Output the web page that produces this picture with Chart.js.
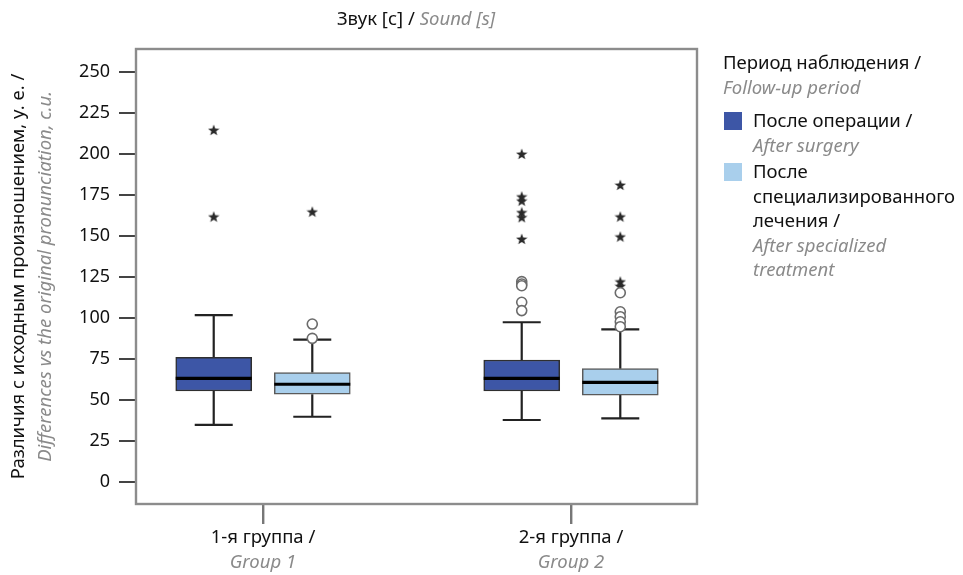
<!DOCTYPE html>
<html><head><meta charset="utf-8">
<script src="https://cdn.jsdelivr.net/npm/chart.js@4/dist/chart.umd.min.js"></script>
<style>
html,body{margin:0;padding:0;background:#fff;}
#wrap{position:relative;width:963px;height:575px;overflow:hidden;}
#c{position:absolute;left:0;top:0;}
.txt{position:absolute;font-family:'Noto Sans',sans-serif;font-size:18.5px;line-height:24.6px;color:#111;}
.en{color:#8a8a8a;font-style:italic;}
#title{left:216px;width:400px;top:6px;text-align:center;white-space:nowrap;}
#legTitle{left:723px;top:50px;white-space:nowrap;}
.sw{position:absolute;width:18px;height:18px;}
.lt{width:209px;}
</style></head>
<body><div id="wrap"><canvas id="c" width="963" height="575"></canvas>
<div id="title" class="txt"></div>
<div id="legTitle" class="txt"></div>
</div>
<script>
// ---- data ----
const titleRu = 'Звук [с] /';
const titleEn = 'Sound [s]';
const yTitleRu = 'Различия с исходным произношением, у. е. /';
const yTitleEn = 'Differences vs the original pronunciation, c.u.';
const legendTitleRu = 'Период наблюдения /';
const legendTitleEn = 'Follow-up period';
const categoriesRu = ['1-я группа /', '2-я группа /'];
const categoriesEn = ['Group 1', 'Group 2'];
const seriesRu = ['После операции /', 'После специализированного лечения /'];
const seriesEn = ['After surgery', 'After specialized treatment'];
const yTicks = [0, 25, 50, 75, 100, 125, 150, 175, 200, 225, 250];
// [lower whisker, Q1, median, Q3, upper whisker] per group
const afterSurgery   = [[34.8, 55.5, 63.2, 76.0, 101.8], [37.8, 55.5, 63.2, 74.4, 97.4]];
const afterTreatment = [[39.8, 53.5, 59.6, 66.7, 86.8],  [38.8, 53.0, 60.8, 69.1, 93.1]];
// outliers (circles) and extreme values (stars) per group
const surgeryOutliers   = [[], [122.2, 120.7, 119.7, 109.6, 104.5]];
const surgeryExtremes   = [[214.6, 161.8], [200.0, 174.0, 171.5, 164.4, 161.4, 148.2]];
const treatmentOutliers = [[96.3, 87.6], [115.4, 103.8, 100.8, 97.7, 94.7]];
const treatmentExtremes = [[164.8], [181.1, 161.8, 149.6, 122.2, 119.5]];

// ---- style ----
const colors = ['#3d56a6', '#a9cfec'];
const boxBorders = ['#2f2f2f', '#5a5a5a'];
const FONT = "'Noto Sans', sans-serif";
const FS = 18.5;
const unitPx = 308;           // px per category unit
const offs = [-0.16, 0.16];   // series offset within group
const capHalf = 19 / unitPx;
const boxHalf = 38 / unitPx;

// HTML texts
document.getElementById('title').innerHTML = titleRu + ' <span class="en">' + titleEn + '</span>';
document.getElementById('legTitle').innerHTML = legendTitleRu + '<br><span class="en">' + legendTitleEn + '</span>';
const wrap = document.getElementById('wrap');
const legTops = [109, 160];
seriesRu.forEach((s, i) => {
  const sw = document.createElement('div');
  sw.className = 'sw'; sw.style.left = '724px'; sw.style.top = (legTops[i] + 3) + 'px';
  sw.style.background = colors[i];
  wrap.appendChild(sw);
  const t = document.createElement('div');
  t.className = 'txt lt'; t.style.left = '753px'; t.style.top = (legTops[i] - 1) + 'px';
  t.innerHTML = s + '<br><span class="en">' + seriesEn[i] + '</span>';
  wrap.appendChild(t);
});

// star image for extreme values
function makeStar(size, color) {
  const c = document.createElement('canvas');
  c.width = size; c.height = size;
  const x = c.getContext('2d');
  const cx = size / 2, cy = size / 2 + 0.5, R = size / 2, r = R * 0.42;
  x.beginPath();
  for (let k = 0; k < 10; k++) {
    const a = -Math.PI / 2 + k * Math.PI / 5;
    const rr = k % 2 ? r : R;
    x.lineTo(cx + rr * Math.cos(a), cy + rr * Math.sin(a));
  }
  x.closePath(); x.fillStyle = color; x.fill();
  return c;
}
const star = makeStar(12, '#2a2a2a');

const boxes = [afterSurgery, afterTreatment];
const datasets = [];
boxes.forEach((series, s) => {
  datasets.push({
    type: 'bar', label: seriesRu[s], order: 1, grouped: false,
    data: series.map((b, g) => ({ x: g + offs[s], y: [b[1], b[3]] })),
    backgroundColor: colors[s], borderColor: boxBorders[s], borderWidth: 1.5,
    borderSkipped: false, barThickness: 76
  });
});
// whiskers + caps
const wpts = [], mpts = [];
boxes.forEach((series, s) => series.forEach((b, g) => {
  const xc = g + offs[s];
  wpts.push({x: xc, y: b[0]}, {x: xc, y: b[1]}, {x: xc, y: null});
  wpts.push({x: xc, y: b[3]}, {x: xc, y: b[4]}, {x: xc, y: null});
  wpts.push({x: xc - capHalf, y: b[0]}, {x: xc + capHalf, y: b[0]}, {x: xc, y: null});
  wpts.push({x: xc - capHalf, y: b[4]}, {x: xc + capHalf, y: b[4]}, {x: xc, y: null});
  mpts.push({x: xc - boxHalf, y: b[2]}, {x: xc + boxHalf, y: b[2]}, {x: xc, y: null});
}));
datasets.push({ type: 'line', order: 2, data: wpts, borderColor: '#222', borderWidth: 2.2,
  pointRadius: 0, spanGaps: false, fill: false, tension: 0 });
datasets.push({ type: 'line', order: 0, data: mpts, borderColor: '#000', borderWidth: 3.2,
  pointRadius: 0, spanGaps: false, fill: false, tension: 0 });
// outliers
[[surgeryOutliers, surgeryExtremes], [treatmentOutliers, treatmentExtremes]].forEach(([outs, ext], s) => {
  datasets.push({ type: 'scatter', order: 0,
    data: outs.flatMap((arr, g) => arr.map(v => ({x: g + offs[s], y: v}))),
    pointStyle: 'circle', pointRadius: 5, borderColor: '#6b6b6b', borderWidth: 1.6, backgroundColor: '#fff' });
  datasets.push({ type: 'scatter', order: 0,
    data: ext.flatMap((arr, g) => arr.map(v => ({x: g + offs[s], y: v}))),
    pointStyle: star, pointRadius: 6 });
});

const frame = {
  id: 'frame',
  afterDatasetsDraw(chart) {
    const {ctx, chartArea: a} = chart;
    ctx.save(); ctx.strokeStyle = '#8c8c8c'; ctx.lineWidth = 2.4;
    ctx.strokeRect(a.left, a.top, a.right - a.left, a.bottom - a.top);
    ctx.restore();
  }
};

const xMin = -127 / unitPx, xMax = 1 + 126 / unitPx;
const xTicksFn = s => { s.ticks = categoriesRu.map((_, i) => ({value: i})); };
new Chart(document.getElementById('c'), {
  type: 'bar',
  data: { datasets },
  plugins: [frame],
  options: {
    responsive: false, animation: false, events: [],
    layout: { padding: { left: 0, top: 49, right: 266, bottom: 0 } },
    plugins: { legend: { display: false }, tooltip: { enabled: false } },
    scales: {
      x: { type: 'linear', min: xMin, max: xMax, offset: false, weight: 0,
        afterBuildTicks: xTicksFn,
        afterFit: s => { s.height = 45; },
        grid: { offset: false, drawOnChartArea: false, drawTicks: true, tickLength: 20, color: '#777', lineWidth: 2.4 },
        border: { display: false },
        ticks: { padding: 3, color: '#111', font: { family: FONT, size: FS }, maxRotation: 0, autoSkip: false,
          callback: (v, i) => categoriesRu[i] } },
      x2: { type: 'linear', position: 'bottom', axis: 'x', min: xMin, max: xMax, offset: false, weight: 1,
        afterBuildTicks: xTicksFn,
        afterFit: s => { s.height = 26; },
        grid: { display: false, drawTicks: false }, border: { display: false },
        ticks: { padding: 3, color: '#8a8a8a', font: { family: FONT, size: FS, style: 'italic' }, maxRotation: 0, autoSkip: false,
          callback: (v, i) => categoriesEn[i] } },
      y: { type: 'linear', min: -13.4, max: 264, weight: 0,
        afterBuildTicks: s => { s.ticks = yTicks.map(v => ({value: v})); },
        afterFit: s => { s.width = 80; },
        grid: { drawOnChartArea: false, drawTicks: true, tickLength: 17, color: '#444', lineWidth: 2 },
        border: { display: false },
        ticks: { padding: 9, color: '#111', font: { family: FONT, size: 18 } } },
      yEn: { type: 'linear', position: 'left', axis: 'y', min: -13.4, max: 264, weight: 1,
        afterFit: s => { s.width = 26; },
        grid: { display: false, drawTicks: false }, border: { display: false },
        ticks: { display: false },
        title: { display: true, text: yTitleEn, color: '#8a8a8a', padding: { top: 4.5, bottom: 0 },
          font: { family: FONT, size: FS, style: 'italic' } } },
      yRu: { type: 'linear', position: 'left', axis: 'y', min: -13.4, max: 264, weight: 2,
        afterFit: s => { s.width = 30; },
        grid: { display: false, drawTicks: false }, border: { display: false },
        ticks: { display: false },
        title: { display: true, text: yTitleRu, color: '#111', padding: { top: 8, bottom: 0 },
          font: { family: FONT, size: FS } } }
    }
  }
});
</script></body></html>
